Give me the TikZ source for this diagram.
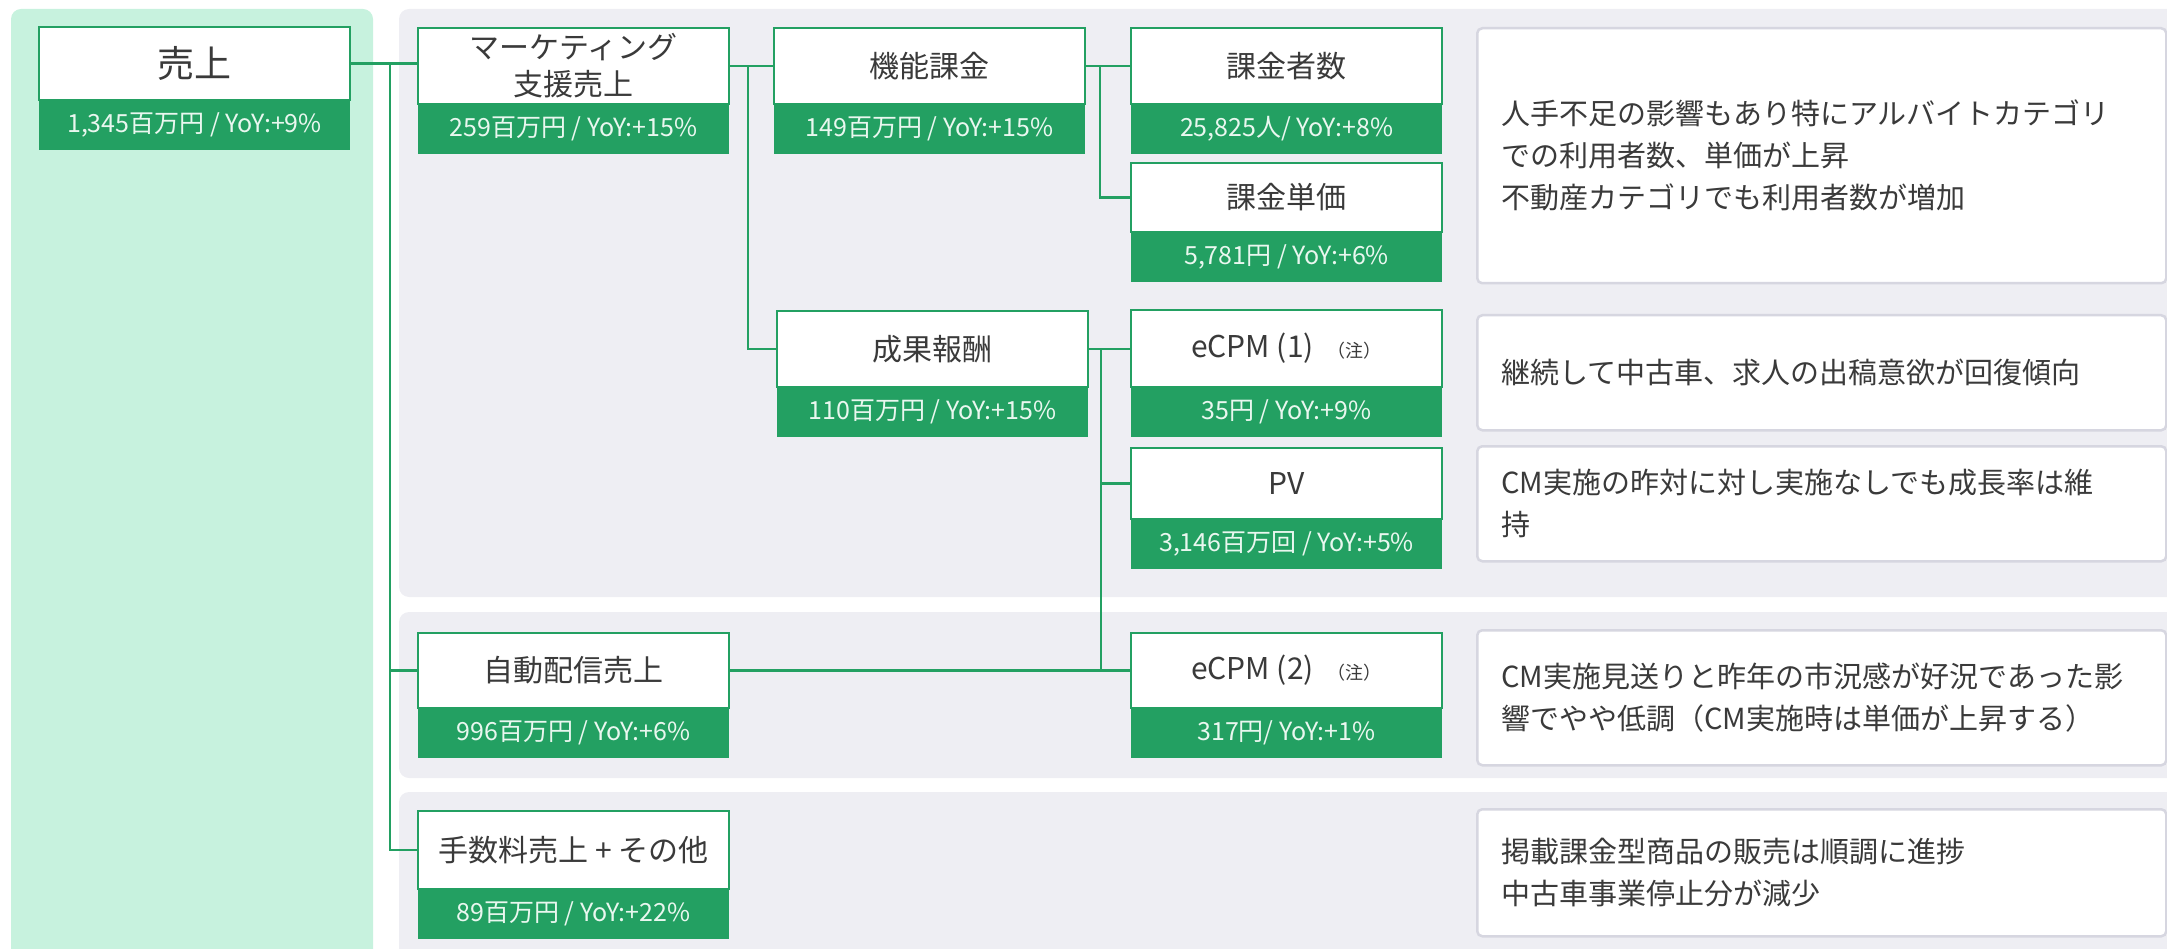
\documentclass[tikz,border=0pt]{standalone}
\usepackage{fontspec}
\setmainfont{Noto Sans CJK JP}
\definecolor{kpigreen}{HTML}{23A062}
\definecolor{panelgreen}{HTML}{C7F2DE}
\definecolor{panelgray}{HTML}{EEEEF3}
\definecolor{noteline}{HTML}{D6D6E0}
\definecolor{inkgray}{HTML}{3A3A3A}
\definecolor{bandtext}{HTML}{E9F7EF}
\tikzset{
  kpihead/.style={draw=kpigreen, fill=white, line width=2.5pt, minimum width=311pt, inner sep=0pt, outer sep=0pt, text=inkgray, align=center, font=\fontsize{30}{37}\selectfont},
  kpiband/.style={fill=kpigreen, minimum width=311pt, minimum height=50pt, inner sep=0pt, outer sep=0pt, text=bandtext, font=\fontsize{25}{28}\selectfont},
  link/.style={draw=kpigreen, line width=2.5pt},
  notebox/.style={draw=noteline, fill=white, line width=2.5pt, rounded corners=5pt, minimum width=689pt, inner xsep=24pt, text width=641pt, align=left, anchor=north west, text=inkgray, font=\fontsize{29}{42}\selectfont},
}
\newcommand\kpibox[6]{%
  \node[kpihead, minimum height=#4pt, anchor=north west] (#1) at (#2,#3) {#5};
  \node[kpiband, anchor=north west] (#1v) at (#1.south west) {#6};}
\newcommand\chu{\hspace{14pt}{\fontsize{18}{18}\selectfont （注）}}
\begin{document}
\begin{tikzpicture}[x=1pt,y=-1pt]
            \useasboundingbox (0,0) rectangle (2167,949);
            \clip (0,0) rectangle (2167,949);

            \fill[panelgreen, rounded corners=10pt] (11,9) rectangle (373,970);
            \fill[panelgray, rounded corners=10pt] (399,9) rectangle (2190,597);
            \fill[panelgray, rounded corners=10pt] (399,612) rectangle (2190,778);
            \fill[panelgray, rounded corners=10pt] (399,792) rectangle (2190,970);

            \kpibox{uriage}{39}{27}{73}{\fontsize{37}{40}\selectfont 売上}{1,345百万円 / YoY:+9\%}
            \kpibox{mkt}{418}{28}{76}{マーケティング\\支援売上}{259百万円 / YoY:+15\%}
            \kpibox{kino}{774}{28}{76}{機能課金}{149百万円 / YoY:+15\%}
            \kpibox{kakin}{1131}{28}{76}{課金者数}{25,825人/ YoY:+8\%}
            \kpibox{tanka}{1131}{163}{69}{課金単価}{5,781円 / YoY:+6\%}
            \kpibox{seika}{777}{311}{76}{成果報酬}{110百万円 / YoY:+15\%}
            \kpibox{ecpma}{1131}{310}{77}{eCPM (1)\chu}{35円 / YoY:+9\%}
            \kpibox{pv}{1131}{448}{71}{PV}{3,146百万回 / YoY:+5\%}
            \kpibox{jido}{418}{633}{75}{自動配信売上}{996百万円 / YoY:+6\%}
            \kpibox{ecpmb}{1131}{633}{75}{eCPM (2)\chu}{317円/ YoY:+1\%}
            \kpibox{tesu}{418}{811}{78}{手数料売上 + その他}{89百万円 / YoY:+22\%}

            \draw[link] (uriage.east) -- (uriage.east -| mkt.west);
            \draw[link] (uriage.east) -- ++(40,0) |- (jido.west);
            \draw[link] (uriage.east) -- ++(40,0) |- (tesu.west);
            \draw[link] (mkt.east) -- (kino.west);
            \draw[link] (mkt.east) -- ++(19,0) |- (seika.west);
            \draw[link] (kino.east) -- (kakin.west);
            \draw[link] (kino.east) -- ++(15,0) |- (tanka.west);
            \draw[link] (seika.east) -- (seika.east -| ecpma.west);
            \draw[link] (seika.east) -- ++(13,0) |- (pv.west);
            \draw[link] (seika.east) -- ++(13,0) |- (ecpmb.west);
            \draw[link] (jido.east) -- (ecpmb.west);

            \node[notebox, minimum height=255pt] (noteA) at (1476,27) {人手不足の影響もあり特にアルバイトカテゴリ\\での利用者数、単価が上昇\\不動産カテゴリでも利用者数が増加};
            \node[notebox, minimum height=115pt] (noteB) at (1476,314) {継続して中古車、求人の出稿意欲が回復傾向};
            \node[notebox, minimum height=115pt] (noteC) at (1476,445) {CM実施の昨対に対し実施なしでも成長率は維\\持};
            \node[notebox, minimum height=135pt] (noteD) at (1476,629) {CM実施見送りと昨年の市況感が好況であった影\\響でやや低調（CM実施時は単価が上昇する）};
            \node[notebox, minimum height=127pt] (noteE) at (1476,808) {掲載課金型商品の販売は順調に進捗\\中古車事業停止分が減少};
        \end{tikzpicture}
\end{document}
